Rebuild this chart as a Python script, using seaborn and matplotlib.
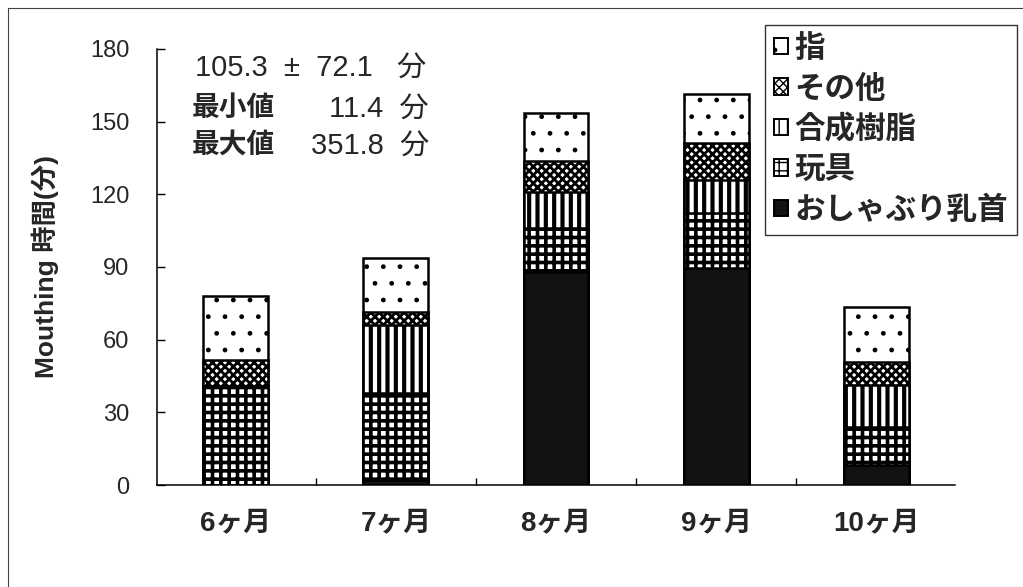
import matplotlib
matplotlib.use("Agg")
import matplotlib.pyplot as plt
import numpy as np
import pandas as pd
import seaborn as sns
from matplotlib.patches import Patch
from matplotlib.lines import Line2D

# Mouthing time (minutes) by object, per age group; stacked bottom to top
months = ["6ヶ月", "7ヶ月", "8ヶ月", "9ヶ月", "10ヶ月"]
pacifier = [0.0, 2.1, 88.1, 89.5, 8.3]      # おしゃぶり乳首
toy = [40.9, 35.8, 17.9, 22.7, 15.8]        # 玩具
resin = [0.0, 28.2, 15.1, 13.7, 17.2]       # 合成樹脂
other = [10.7, 5.4, 12.7, 15.2, 9.6]        # その他
finger = [26.4, 22.2, 19.6, 20.3, 22.7]     # 指

layer_names = ["おしゃぶり乳首", "玩具", "合成樹脂", "その他", "指"]
layer_values = [pacifier, toy, resin, other, finger]
yticks = [0, 30, 60, 90, 120, 150, 180]

summary_line = "105.3  ±  72.1   分"
min_label, min_value = "最小値", "11.4  分"
max_label, max_value = "最大値", "351.8  分"

# fill style per layer: (face colour, hatch, hatch line width)
styles = {
    "おしゃぶり乳首": ("#121212", None, 1.0),
    "玩具": ("white", "++", 2.6),
    "合成樹脂": ("white", "||", 3.0),
    "その他": ("white", "xxxx", 2.0),
    "指": ("white", ".", 1.0),
}

sns.set_theme(style="white")
plt.rcParams["font.family"] = ["Liberation Sans", "Noto Sans CJK JP"]
plt.rcParams["hatch.color"] = "black"
plt.rcParams["ytick.direction"] = "in"
plt.rcParams["xtick.direction"] = "in"

W, H = 1023, 587
fig = plt.figure(figsize=(W / 100, H / 100), dpi=100)
ax = fig.add_axes([157 / W, 1 - 485 / H, (955 - 157) / W, (485 - 49) / H])

df = pd.DataFrame({"month": months})
cum = np.zeros(len(months))
for name, vals in zip(layer_names, layer_values):
    cum = cum + np.array(vals)
    df[name] = cum

# draw cumulative totals tallest first so each lower layer covers the one above
for name in reversed(layer_names):
    face, hatch, hlw = styles[name]
    n0 = len(ax.patches)
    sns.barplot(data=df, x="month", y=name, order=months, color=face,
                saturation=1, width=0.405, hatch=hatch, edgecolor="black",
                linewidth=1.8, errorbar=None, ax=ax)
    for p in ax.patches[n0:]:
        p.set_facecolor(face)
        if hasattr(p, "set_hatch_linewidth"):
            p.set_hatch_linewidth(hlw)

ax.set_xlim(-0.49, 4.49)
ax.set_ylim(0, 180)
ax.set_yticks(yticks)
ax.set_yticklabels([str(v) for v in yticks], fontsize=17)
ax.set_xticks(range(len(months)))
ax.set_xticklabels(months, fontsize=20, fontweight="bold")
ax.set_xticks([0.5, 1.5, 2.5, 3.5], minor=True)
ax.yaxis.set_tick_params(which="major", direction="in", length=6, width=1,
                         color="black", pad=20, left=True, right=False)
ax.xaxis.set_tick_params(which="major", length=0, pad=19)
ax.xaxis.set_tick_params(which="minor", direction="in", length=5, width=1,
                         color="black", bottom=True, top=False)
ax.set_xlabel("")
ax.set_ylabel("Mouthing 時間(分)", fontsize=19, fontweight="bold", labelpad=22)
for side in ["top", "right"]:
    ax.spines[side].set_visible(False)
for side in ["left", "bottom"]:
    ax.spines[side].set_color("black")
    ax.spines[side].set_linewidth(1.1)


def fx(px):
    return px / W


def fy(py):
    return 1 - py / H


# summary statistics block
fig.text(fx(195), fy(68), summary_line, fontsize=21, ha="left", va="center")
fig.text(fx(192), fy(109), min_label, fontsize=20, fontweight="bold",
         ha="left", va="center")
fig.text(fx(429), fy(109), min_value, fontsize=21, ha="right", va="center")
fig.text(fx(192), fy(146), max_label, fontsize=20, fontweight="bold",
         ha="left", va="center")
fig.text(fx(429), fy(146), max_value, fontsize=21, ha="right", va="center")

# legend, top layer first
handles = []
for name in reversed(layer_names):
    face, hatch, hlw = styles[name]
    h = Patch(facecolor=face, edgecolor="black", hatch=hatch, linewidth=1.4,
              label=name)
    handles.append(h)
leg = fig.legend(handles=handles, loc="upper left",
                 bbox_to_anchor=(fx(765), fy(25)), frameon=True, fancybox=False,
                 shadow=False, prop={"size": 22, "weight": "bold"},
                 handlelength=0.45, handleheight=0.45, handletextpad=0.2,
                 labelspacing=0.34, borderpad=0.3, borderaxespad=0.0)
leg.get_frame().set_edgecolor("black")
leg.get_frame().set_linewidth(1.0)

# page frame lines
fig.add_artist(Line2D([fx(8), 1.0], [fy(8), fy(8)], color="#444444", lw=0.8,
                      transform=fig.transFigure))
fig.add_artist(Line2D([fx(8), fx(8)], [fy(8), 0.0], color="#444444", lw=0.8,
                      transform=fig.transFigure))

fig.savefig("out.png", dpi=100, facecolor="white")
